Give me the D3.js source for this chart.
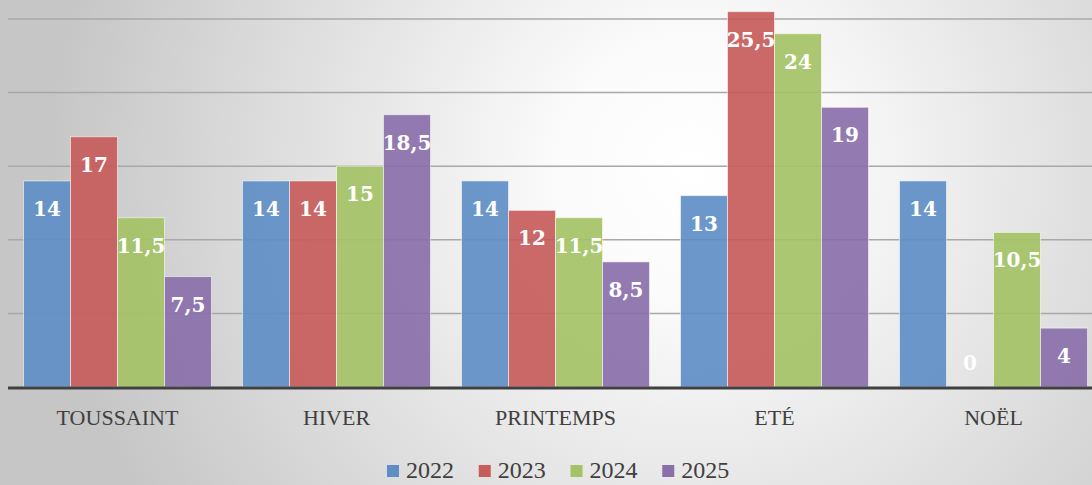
<!DOCTYPE html>
<html>
<head>
<meta charset="utf-8">
<script src="https://cdn.jsdelivr.net/npm/d3@7"></script>
<style>
  body { margin: 0; overflow: hidden; }
  svg { display: block; }
</style>
</head>
<body>
<div class="canvas"></div>
<script>
// data
const categories = ['TOUSSAINT', 'HIVER', 'PRINTEMPS', 'ETÉ', 'NOËL']
const years = ['2022', '2023', '2024', '2025']
const values2022 = [14, 14, 14, 13, 14]
const values2023 = [17, 14, 12, 25.5, 0]
const values2024 = [11.5, 15, 11.5, 24, 10.5]
const values2025 = [7.5, 18.5, 8.5, 19, 4]
const gridTicks = [5, 10, 15, 20, 25]

const seriesValues = [values2022, values2023, values2024, values2025]
const colours = ['#5f8ec6', '#c75c5b', '#a4c266', '#8a70ab']

const dims = { width: 1092, height: 485 }
const plot = { left: 8, right: 1103, top: 19, bottom: 387 }

const svg = d3.select('.canvas')
    .append('svg')
    .attr('width', dims.width)
    .attr('height', dims.height)

// background: soft radial light
const defs = svg.append('defs')
const grad = defs.append('radialGradient')
    .attr('id', 'bg')
    .attr('gradientUnits', 'userSpaceOnUse')
    .attr('cx', 690).attr('cy', 170).attr('r', 640)
grad.append('stop').attr('offset', '0%').attr('stop-color', '#ffffff')
grad.append('stop').attr('offset', '20%').attr('stop-color', '#fbfbfb')
grad.append('stop').attr('offset', '100%').attr('stop-color', '#c6c6c6')

svg.append('rect')
    .attr('width', dims.width)
    .attr('height', dims.height)
    .attr('fill', 'url(#bg)')

const x0 = d3.scaleBand()
    .domain(categories)
    .range([plot.left, plot.right])
    .paddingInner(0.1416)
    .paddingOuter(0.0708)

const x1 = d3.scaleBand()
    .domain(years)
    .range([0, x0.bandwidth()])

const y = d3.scaleLinear()
    .domain([0, 25])
    .range([plot.bottom, plot.top])

// gridlines
svg.append('g')
    .selectAll('line')
    .data(gridTicks)
    .enter()
    .append('line')
    .attr('x1', plot.left)
    .attr('x2', dims.width)
    .attr('y1', d => y(d))
    .attr('y2', d => y(d))
    .attr('stroke', '#a8a8a8')
    .attr('stroke-width', 1.5)

const rows = categories.map((c, i) => ({
    cat: c,
    vals: years.map((yr, j) => ({ year: yr, value: seriesValues[j][i], colour: colours[j] }))
}))

const groups = svg.append('g')
    .selectAll('g')
    .data(rows)
    .enter()
    .append('g')
    .attr('transform', d => `translate(${x0(d.cat)},0)`)

groups.selectAll('rect')
    .data(d => d.vals)
    .enter()
    .append('rect')
    .attr('x', d => x1(d.year))
    .attr('y', d => y(d.value))
    .attr('width', x1.bandwidth())
    .attr('height', d => y(0) - y(d.value))
    .attr('fill', d => d.colour)
    .attr('fill-opacity', 0.92)
    .attr('stroke', 'rgba(255,255,255,0.55)')
    .attr('stroke-width', 1)

groups.selectAll('text')
    .data(d => d.vals)
    .enter()
    .append('text')
    .attr('x', d => x1(d.year) + x1.bandwidth() / 2)
    .attr('y', d => Math.min(y(d.value) + 35, y(0) - 17))
    .attr('text-anchor', 'middle')
    .attr('font-family', '"DejaVu Serif", serif')
    .attr('font-weight', 'bold')
    .attr('font-size', 20)
    .attr('fill', '#fff')
    .text(d => String(d.value).replace('.', ','))

// baseline
svg.append('line')
    .attr('x1', plot.left)
    .attr('x2', dims.width)
    .attr('y1', y(0) + 1)
    .attr('y2', y(0) + 1)
    .attr('stroke', '#404040')
    .attr('stroke-width', 3)

// category labels
svg.append('g')
    .selectAll('text')
    .data(categories)
    .enter()
    .append('text')
    .attr('x', d => x0(d) + x0.bandwidth() / 2)
    .attr('y', 425)
    .attr('text-anchor', 'middle')
    .attr('font-family', '"Liberation Serif", serif')
    .attr('font-size', 22)
    .attr('fill', '#404040')
    .text(d => d)

// legend
const legX = d3.scaleBand()
    .domain(years)
    .range([387, 754])

const legend = svg.append('g')
    .selectAll('g')
    .data(years)
    .enter()
    .append('g')
    .attr('transform', d => `translate(${legX(d)},465)`)

legend.append('rect')
    .attr('width', 12)
    .attr('height', 12)
    .attr('fill', (d, i) => colours[i])

legend.append('text')
    .attr('x', 19)
    .attr('y', 13)
    .attr('font-family', '"Liberation Serif", serif')
    .attr('font-size', 24)
    .attr('fill', '#404040')
    .text(d => d)
</script>
</body>
</html>
